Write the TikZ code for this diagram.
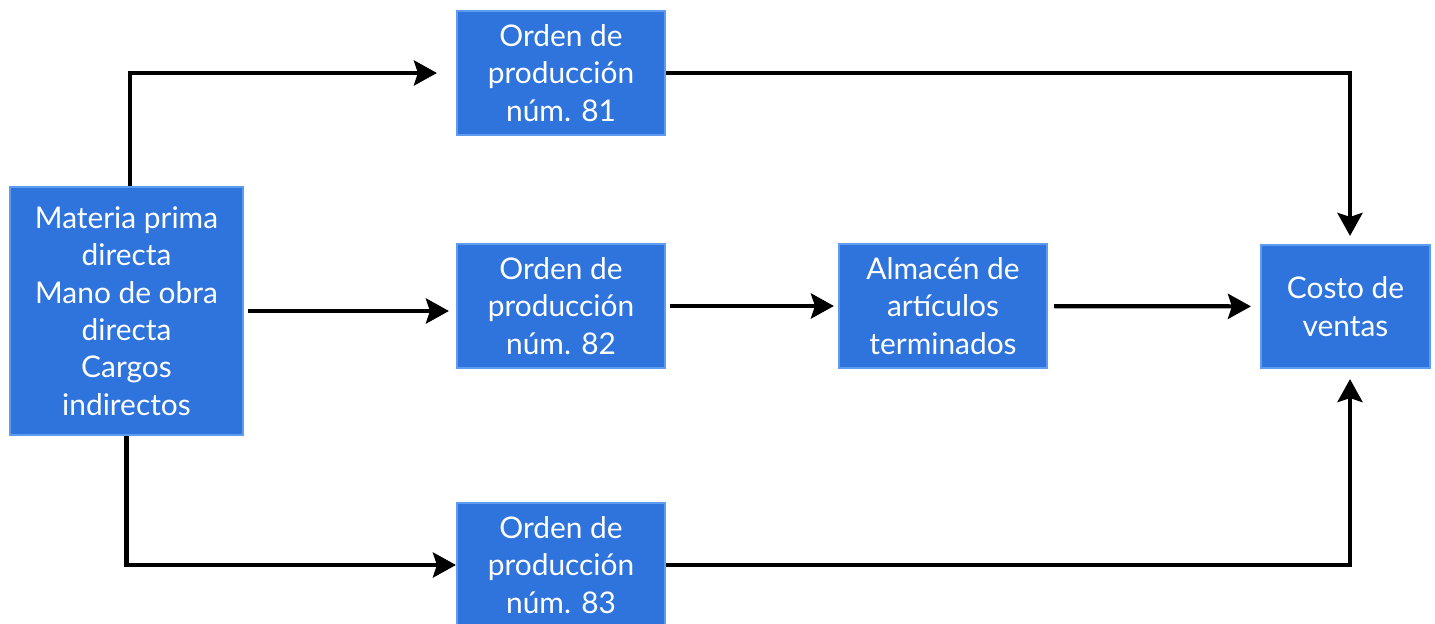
\documentclass[tikz,border=0pt]{standalone}
\usepackage{fontspec}
\setmainfont{Lato}
\usepackage{tikz}
\usetikzlibrary{arrows.meta}
\definecolor{cajaazul}{HTML}{2F74DC}
\definecolor{bordeazul}{HTML}{5E9CF2}

\tikzset{
  caja/.style={fill=cajaazul, draw=bordeazul, line width=1.2pt, text=white, align=center,
    inner sep=0pt, font=\fontsize{17}{21.3}\selectfont},
  flecha/.style={line width=2.4pt, -{Stealth[length=0.46cm, width=0.5cm, inset=0.08cm]}}
}

\begin{document}
\begin{tikzpicture}
\useasboundingbox (0,0) rectangle (28.7,12.46);
\node[caja, minimum width=4.66cm, minimum height=4.96cm] (insumos) at (2.53,6.24) {Materia prima\\directa\\Mano de obra\\directa\\Cargos\\indirectos};
\node[caja, minimum width=4.16cm, minimum height=2.48cm] (orden81) at (11.22,11.0) {Orden de\\producción\\núm. 81};
\node[caja, minimum width=4.16cm, minimum height=2.48cm] (orden82) at (11.22,6.34) {Orden de\\producción\\núm. 82};
\node[caja, minimum width=4.16cm, minimum height=2.48cm] (orden83) at (11.22,1.16) {Orden de\\producción\\núm. 83};
\node[caja, minimum width=4.16cm, minimum height=2.48cm] (almacen) at (18.86,6.34) {Almacén de\\artículos\\terminados};
\node[caja, minimum width=3.38cm, minimum height=2.46cm] (costo) at (26.91,6.33) {Costo de\\ventas};

\draw[flecha, shorten >=0.38cm] ([xshift=0.07cm]insumos.north) |- (orden81.west);
\draw[flecha, shorten <=0.08cm, shorten >=0.14cm] (insumos.east) -- (insumos.east -| orden82.west);
\draw[flecha] (insumos.south) |- (orden83.west);
\draw[flecha, shorten >=0.16cm] (orden81.east) -| ([xshift=0.09cm]costo.north);
\draw[flecha, shorten <=0.08cm, shorten >=0.08cm] (orden82) -- (almacen);
\draw[flecha, shorten <=0.12cm, shorten >=0.18cm] (almacen) -- (costo);
\draw[flecha, shorten >=0.2cm] (orden83.east) -| ([xshift=0.09cm]costo.south);
\end{tikzpicture}
\end{document}
